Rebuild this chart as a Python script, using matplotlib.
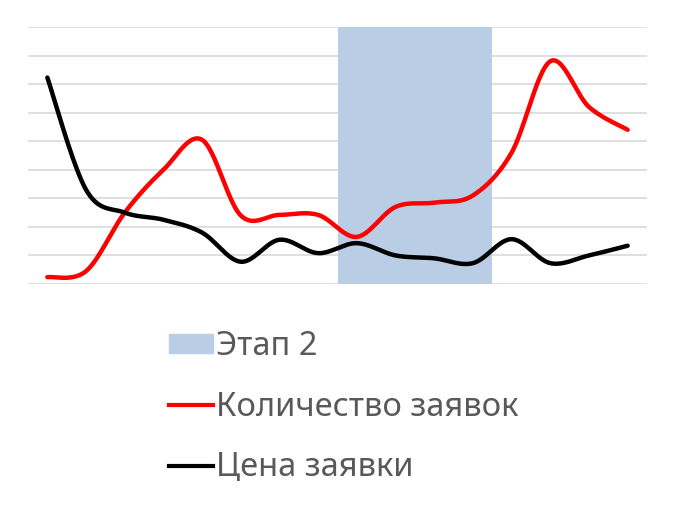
import numpy as np
import matplotlib.pyplot as plt
from matplotlib.patches import Patch
from matplotlib.lines import Line2D

plt.rcParams['font.family'] = ['Noto Sans', 'DejaVu Sans']

# Данные (условные единицы сетки 0..9)
periods = np.arange(16)
stage2 = [0, 0, 0, 0, 0, 0, 0, 0, 9, 9, 9, 9, 0, 0, 0, 0]
kolichestvo = [0.24, 0.45, 2.5, 4.0, 5.05, 2.4, 2.42, 2.42,
               1.65, 2.7, 2.85, 3.1, 4.6, 7.8, 6.2, 5.4]
tsena = [7.23, 3.3, 2.5, 2.25, 1.8, 0.78, 1.55, 1.08,
         1.43, 1.0, 0.9, 0.73, 1.57, 0.73, 1.0, 1.34]


def smooth(x, y, n=30):
    # сглаживание как в Excel (Безье через точки, Catmull-Rom)
    x = np.asarray(x, float)
    y = np.asarray(y, float)
    px = np.concatenate([[x[0]], x, [x[-1]]])
    py = np.concatenate([[y[0]], y, [y[-1]]])
    xs, ys = [], []
    t = np.linspace(0, 1, n)
    for i in range(1, len(px) - 2):
        p0 = np.array([px[i], py[i]])
        p3 = np.array([px[i + 1], py[i + 1]])
        c1 = p0 + (np.array([px[i + 1], py[i + 1]]) - np.array([px[i - 1], py[i - 1]])) / 6
        c2 = p3 - (np.array([px[i + 2], py[i + 2]]) - np.array([px[i], py[i]])) / 6
        b = ((1 - t) ** 3)[:, None] * p0 + (3 * (1 - t) ** 2 * t)[:, None] * c1 \
            + (3 * (1 - t) * t ** 2)[:, None] * c2 + (t ** 3)[:, None] * p3
        xs.extend(b[:, 0])
        ys.extend(b[:, 1])
    return xs, ys


fig = plt.figure(figsize=(6.74, 5.09), dpi=100)
ax = fig.add_axes([28 / 674, 1 - 284 / 509, 619 / 674, 257 / 509])

ax.bar(periods, stage2, width=1.0, color='#B9CDE5', zorder=2)
xs, ys = smooth(periods, kolichestvo)
ax.plot(xs, ys, color='#FF0000', lw=3.2, solid_capstyle='round', zorder=3)
xs, ys = smooth(periods, tsena)
ax.plot(xs, ys, color='black', lw=3.2, solid_capstyle='round', zorder=3)

ax.set_xlim(-0.5, 15.5)
ax.set_ylim(0, 9)
ax.set_yticks(range(10))
ax.grid(axis='y', color='#D9D9D9', lw=1.2, zorder=0)
ax.set_axisbelow(True)
ax.tick_params(left=False, bottom=False, labelleft=False, labelbottom=False)
for s in ax.spines.values():
    s.set_visible(False)

handles = [Patch(color='#B9CDE5'),
           Line2D([], [], color='#FF0000', lw=3),
           Line2D([], [], color='black', lw=3)]
labels = ['Этап 2', 'Количество заявок', 'Цена заявки']
leg = fig.legend(handles, labels, loc='upper left', bbox_to_anchor=(169 / 674, 1 - 330 / 509),
                 frameon=False, fontsize=23.5, handlelength=1.35, handleheight=0.55,
                 handletextpad=0.1, labelspacing=0.85, labelcolor='#595959',
                 borderpad=0, borderaxespad=0)

fig.savefig('out.png', dpi=100)
